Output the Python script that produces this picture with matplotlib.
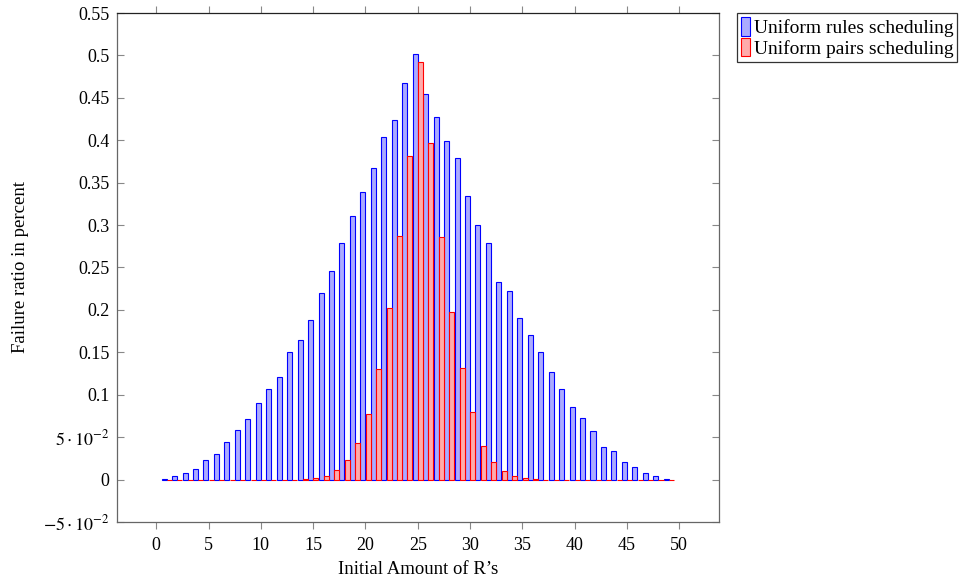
import numpy as np
import matplotlib
matplotlib.use("Agg")
import matplotlib.pyplot as plt
from matplotlib.ticker import FixedLocator, FixedFormatter

plt.rcParams["font.family"] = ["Liberation Serif", "DejaVu Serif"]
plt.rcParams["mathtext.fontset"] = "stix"
plt.rcParams["font.size"] = 13

# initial amount of R's
amounts = list(range(1, 50))

rules_ratio = [
    0.001, 0.004, 0.008, 0.0126, 0.023, 0.030, 0.0446, 0.0587, 0.0717, 0.0898,
    0.107, 0.121, 0.1505, 0.164, 0.188, 0.2195, 0.2455, 0.279, 0.311, 0.3385,
    0.367, 0.404, 0.4236, 0.468, 0.5016, 0.4543, 0.4275, 0.3988, 0.379, 0.334,
    0.3006, 0.2786, 0.2332, 0.2218, 0.1907, 0.170, 0.1505, 0.1269, 0.1064, 0.0859,
    0.0729, 0.0571, 0.0386, 0.0339, 0.0209, 0.015, 0.0075, 0.0039, 0.0008,
]

pairs_ratio = [
    0, 0, 0, 0, 0, 0, 0, 0, 0, 0,
    0, 0, 0, 0.001, 0.002, 0.0044, 0.0118, 0.0233, 0.043, 0.0776,
    0.130, 0.2018, 0.287, 0.382, 0.492, 0.397, 0.286, 0.197, 0.132, 0.080,
    0.040, 0.021, 0.0103, 0.0039, 0.002, 0.0008, 0, 0, 0, 0,
    0, 0, 0, 0, 0, 0, 0, 0, 0,
]

y_ticks = [-0.05, 0, 0.05, 0.1, 0.15, 0.2, 0.25, 0.3, 0.35, 0.4, 0.45, 0.5, 0.55]
y_labels = [r"$-5\cdot10^{-2}$", "0", r"$5\cdot10^{-2}$", "0.1", "0.15", "0.2",
            "0.25", "0.3", "0.35", "0.4", "0.45", "0.5", "0.55"]
x_ticks = list(range(0, 51, 5))

fig = plt.figure(figsize=(9.59, 5.78), dpi=100)
ax = fig.add_axes([0.1215, 0.0969, 0.6283, 0.8806])

x = np.array(amounts)
ax.bar(x - 0.25, rules_ratio, width=0.48, facecolor=(0.67, 0.67, 1.0),
       edgecolor="blue", linewidth=0.8, label="Uniform rules scheduling")
ax.bar(x + 0.25, pairs_ratio, width=0.48, facecolor=(1.0, 0.67, 0.67),
       edgecolor="red", linewidth=0.8, label="Uniform pairs scheduling")

ax.set_xlim(-3.8, 53.8)
ax.set_ylim(-0.05, 0.55)
ax.xaxis.set_major_locator(FixedLocator(x_ticks))
ax.yaxis.set_major_locator(FixedLocator(y_ticks))
ax.yaxis.set_major_formatter(FixedFormatter(y_labels))
ax.tick_params(axis="x", direction="out", top=True, length=5, width=0.8,
               color="#888888", labelsize=13, pad=6)
ax.tick_params(axis="y", direction="in", right=True, length=5, width=0.8,
               color="#888888", labelsize=13, pad=5)
for side, s in ax.spines.items():
    s.set_linewidth(0.9)
    s.set_color("#222222" if side == "top" else "#666666")

ax.set_xlabel("Initial Amount of R\u2019s", fontsize=13.5, labelpad=5)
ax.set_ylabel("Failure ratio in percent", fontsize=13.5, labelpad=10)

leg = fig.legend(loc="upper left", bbox_to_anchor=(0.7685, 0.9775),
                 frameon=True, fancybox=False, edgecolor="#333333", framealpha=1,
                 fontsize=14, handlelength=0.45, handleheight=1.1,
                 handletextpad=0.2, borderpad=0.2, labelspacing=0.05,
                 borderaxespad=0)
leg.get_frame().set_linewidth(0.9)

plt.savefig("out.png", dpi=100)
